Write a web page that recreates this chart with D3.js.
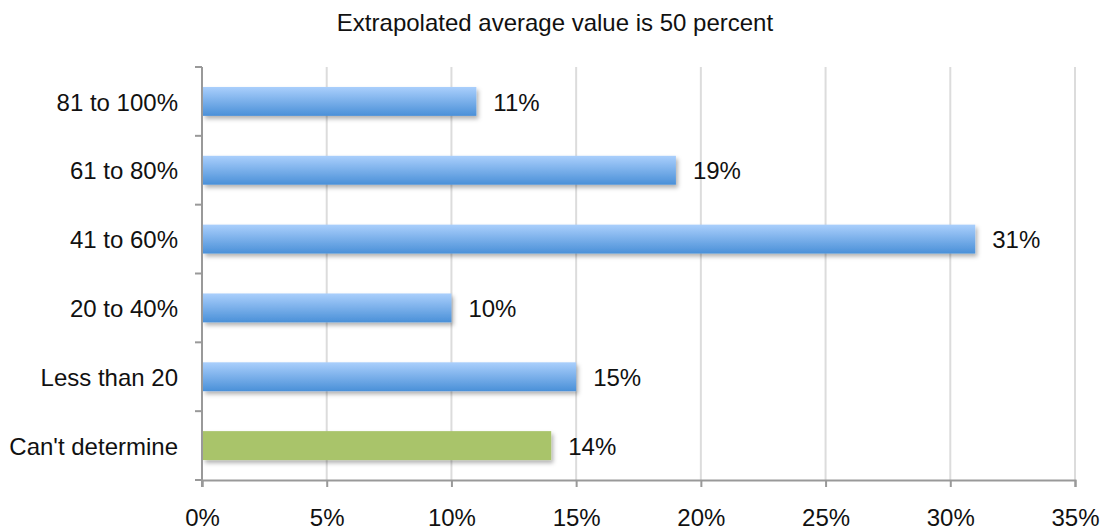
<!DOCTYPE html>
<html>
<head>
<meta charset="utf-8">
<script src="https://cdn.jsdelivr.net/npm/d3@7"></script>
<style>
  html, body { margin: 0; padding: 0; background: #fff; }
  text { font-family: "Liberation Sans", Arial, sans-serif; fill: #111; }
</style>
</head>
<body>
<svg id="chart" width="1104" height="531"></svg>
<script>
// Survey response buckets, top to bottom
const categories = ["81 to 100%", "61 to 80%", "41 to 60%", "20 to 40%", "Less than 20", "Can't determine"];
const values = [11, 19, 31, 10, 15, 14];
const xTicks = [0, 5, 10, 15, 20, 25, 30, 35];
const title = "Extrapolated average value is 50 percent";

const svg = d3.select("#chart");
const margin = { left: 202, right: 29, top: 67, bottom: 51 };
const W = 1104, H = 531;
const fontSize = "24px";

const x = d3.scaleLinear().domain([0, 35]).range([margin.left, W - margin.right]);
const y = d3.scaleBand().domain(categories).range([margin.top, H - margin.bottom]).paddingInner(0.58).paddingOuter(0.29);
const yEdges = d3.scaleLinear().domain([0, categories.length]).range([margin.top, H - margin.bottom]);

// Gradients and shadow
const defs = svg.append("defs");
const blue = defs.append("linearGradient").attr("id", "blueGrad").attr("x1", 0).attr("y1", 0).attr("x2", 0).attr("y2", 1);
blue.append("stop").attr("offset", "0%").attr("stop-color", "#aacffc");
blue.append("stop").attr("offset", "100%").attr("stop-color", "#4a90d8");
const shadow = defs.append("filter").attr("id", "shadow").attr("x", "-5%").attr("y", "-30%").attr("width", "115%").attr("height", "180%");
shadow.append("feDropShadow").attr("dx", 2).attr("dy", 3).attr("stdDeviation", 2).attr("flood-color", "#000").attr("flood-opacity", 0.3);

// Title
svg.append("text").attr("x", 555).attr("y", 31).attr("text-anchor", "middle")
  .style("font-size", fontSize).text(title);

// Vertical gridlines
svg.append("g").selectAll("line").data(xTicks.slice(1)).join("line")
  .attr("x1", d => x(d)).attr("x2", d => x(d))
  .attr("y1", margin.top).attr("y2", H - margin.bottom)
  .attr("stroke", "#dcdcdc").attr("stroke-width", 2);

// Bars
svg.append("g").selectAll("rect").data(categories).join("rect")
  .attr("x", x(0) + 1)
  .attr("y", d => y(d))
  .attr("width", (d, i) => x(values[i]) - x(0) - 1)
  .attr("height", y.bandwidth())
  .attr("fill", (d, i) => i === categories.length - 1 ? "#a9c46b" : "url(#blueGrad)")
  .attr("filter", "url(#shadow)");

// Value labels
svg.append("g").selectAll("text").data(categories).join("text")
  .attr("x", (d, i) => x(values[i]) + 17)
  .attr("y", d => y(d) + y.bandwidth() / 2)
  .attr("dy", "0.38em")
  .style("font-size", fontSize)
  .text((d, i) => values[i] + "%");

// Left axis with ticks at band boundaries
const axisColor = "#999";
svg.append("line").attr("x1", x(0)).attr("x2", x(0)).attr("y1", margin.top).attr("y2", H - margin.bottom + 7)
  .attr("stroke", axisColor).attr("stroke-width", 2);
svg.append("g").selectAll("line").data(d3.range(categories.length + 1)).join("line")
  .attr("x1", x(0) - 7).attr("x2", x(0))
  .attr("y1", d => yEdges(d)).attr("y2", d => yEdges(d))
  .attr("stroke", axisColor).attr("stroke-width", 2);

svg.append("g").selectAll("text").data(categories).join("text")
  .attr("x", x(0) - 24)
  .attr("y", d => y(d) + y.bandwidth() / 2)
  .attr("dy", "0.38em")
  .attr("text-anchor", "end")
  .style("font-size", fontSize)
  .text(d => d);

// Bottom axis
const xAxis = d3.axisBottom(x).tickValues(xTicks).tickSize(7).tickFormat(d => d + "%");
const gx = svg.append("g").attr("transform", `translate(0,${H - margin.bottom})`).call(xAxis);
gx.select(".domain").attr("stroke", axisColor).attr("stroke-width", 2);
gx.selectAll(".tick line").attr("stroke", axisColor).attr("stroke-width", 2);
gx.selectAll(".tick text").attr("y", 29).style("font-size", fontSize)
  .style("font-family", "'Liberation Sans', Arial, sans-serif").attr("fill", "#111");
</script>
</body>
</html>
